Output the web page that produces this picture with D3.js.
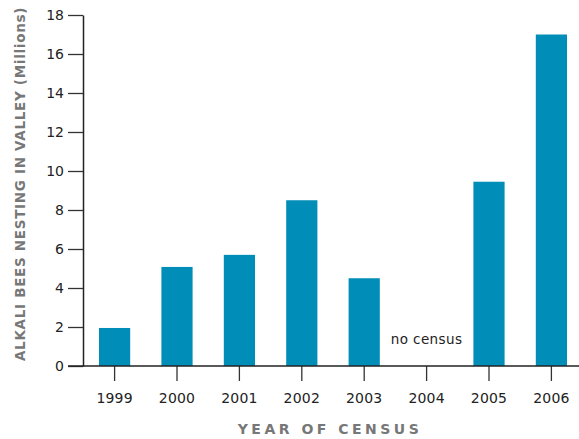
<!DOCTYPE html>
<html><head><meta charset="utf-8">
<script src="https://cdn.jsdelivr.net/npm/d3@7"></script>
<style>body{margin:0;background:#fff}svg{display:block}</style>
</head><body><svg id="c" width="579" height="439"></svg>
<script>
const years = ["1999","2000","2001","2002","2003","2004","2005","2006"];
const bees = [1.95, 5.08, 5.7, 8.5, 4.5, null, 9.45, 17];
const yTicks = [0,2,4,6,8,10,12,14,16,18];
const noteText = "no census";
const xTitle = "YEAR OF CENSUS";
const yTitle = "ALKALI BEES NESTING IN VALLEY (Millions)";

const svg = d3.select("#c");
const font = "'DejaVu Sans', sans-serif";
const x = d3.scaleBand().domain(years).range([83.4, 582.6]).paddingInner(0.5).paddingOuter(0.25);
const y = d3.scaleLinear().domain([0, 18]).range([366, 15]);

// bars
svg.append("g").selectAll("rect").data(years.map((d,i)=>({year:d,v:bees[i]})).filter(d=>d.v!=null))
  .join("rect")
  .attr("x", d=>x(d.year)).attr("width", x.bandwidth())
  .attr("y", d=>y(d.v)).attr("height", d=>y(0)-y(d.v))
  .attr("fill", "#008db8");

// y axis
const ya = svg.append("g").attr("transform","translate(83,0)")
  .call(d3.axisLeft(y).tickValues(yTicks).tickSize(15).tickPadding(4).tickSizeOuter(0));
ya.select(".domain").attr("stroke","#222").attr("stroke-width",1.5);
ya.selectAll(".tick line").attr("stroke","#333").attr("stroke-width",1.3);
ya.selectAll("text").attr("font-family",font).attr("font-size",14).attr("fill","#222");

// x axis
const xa = svg.append("g").attr("transform","translate(0,366)")
  .call(d3.axisBottom(x).tickSize(15).tickPadding(12).tickSizeOuter(0));
xa.select(".domain").remove();
xa.append("line").attr("x1",68).attr("x2",579).attr("y1",0).attr("y2",0).attr("stroke","#222").attr("stroke-width",1.5);
xa.selectAll(".tick line").attr("stroke","#333").attr("stroke-width",1.3);
xa.selectAll("text").attr("font-family",font).attr("font-size",14).attr("fill","#222").attr("letter-spacing","0.2px");

// note for missing year
svg.append("text").attr("x", x("2004")+x.bandwidth()/2).attr("y", 344)
  .attr("text-anchor","middle").attr("font-family",font).attr("font-size",13.5)
  .attr("fill","#222").attr("letter-spacing","0.4px").text(noteText);

// titles
svg.append("text").attr("x",330).attr("y",434).attr("text-anchor","middle")
  .attr("font-family",font).attr("font-weight","bold").attr("font-size",14)
  .attr("letter-spacing","3.5px").attr("fill","#777").text(xTitle);
svg.append("text").attr("transform","translate(25,184) rotate(-90)").attr("text-anchor","middle")
  .attr("font-family",font).attr("font-weight","bold").attr("font-size",13.5)
  .attr("letter-spacing","0.7px").attr("fill","#777").text(yTitle);
</script></body></html>
